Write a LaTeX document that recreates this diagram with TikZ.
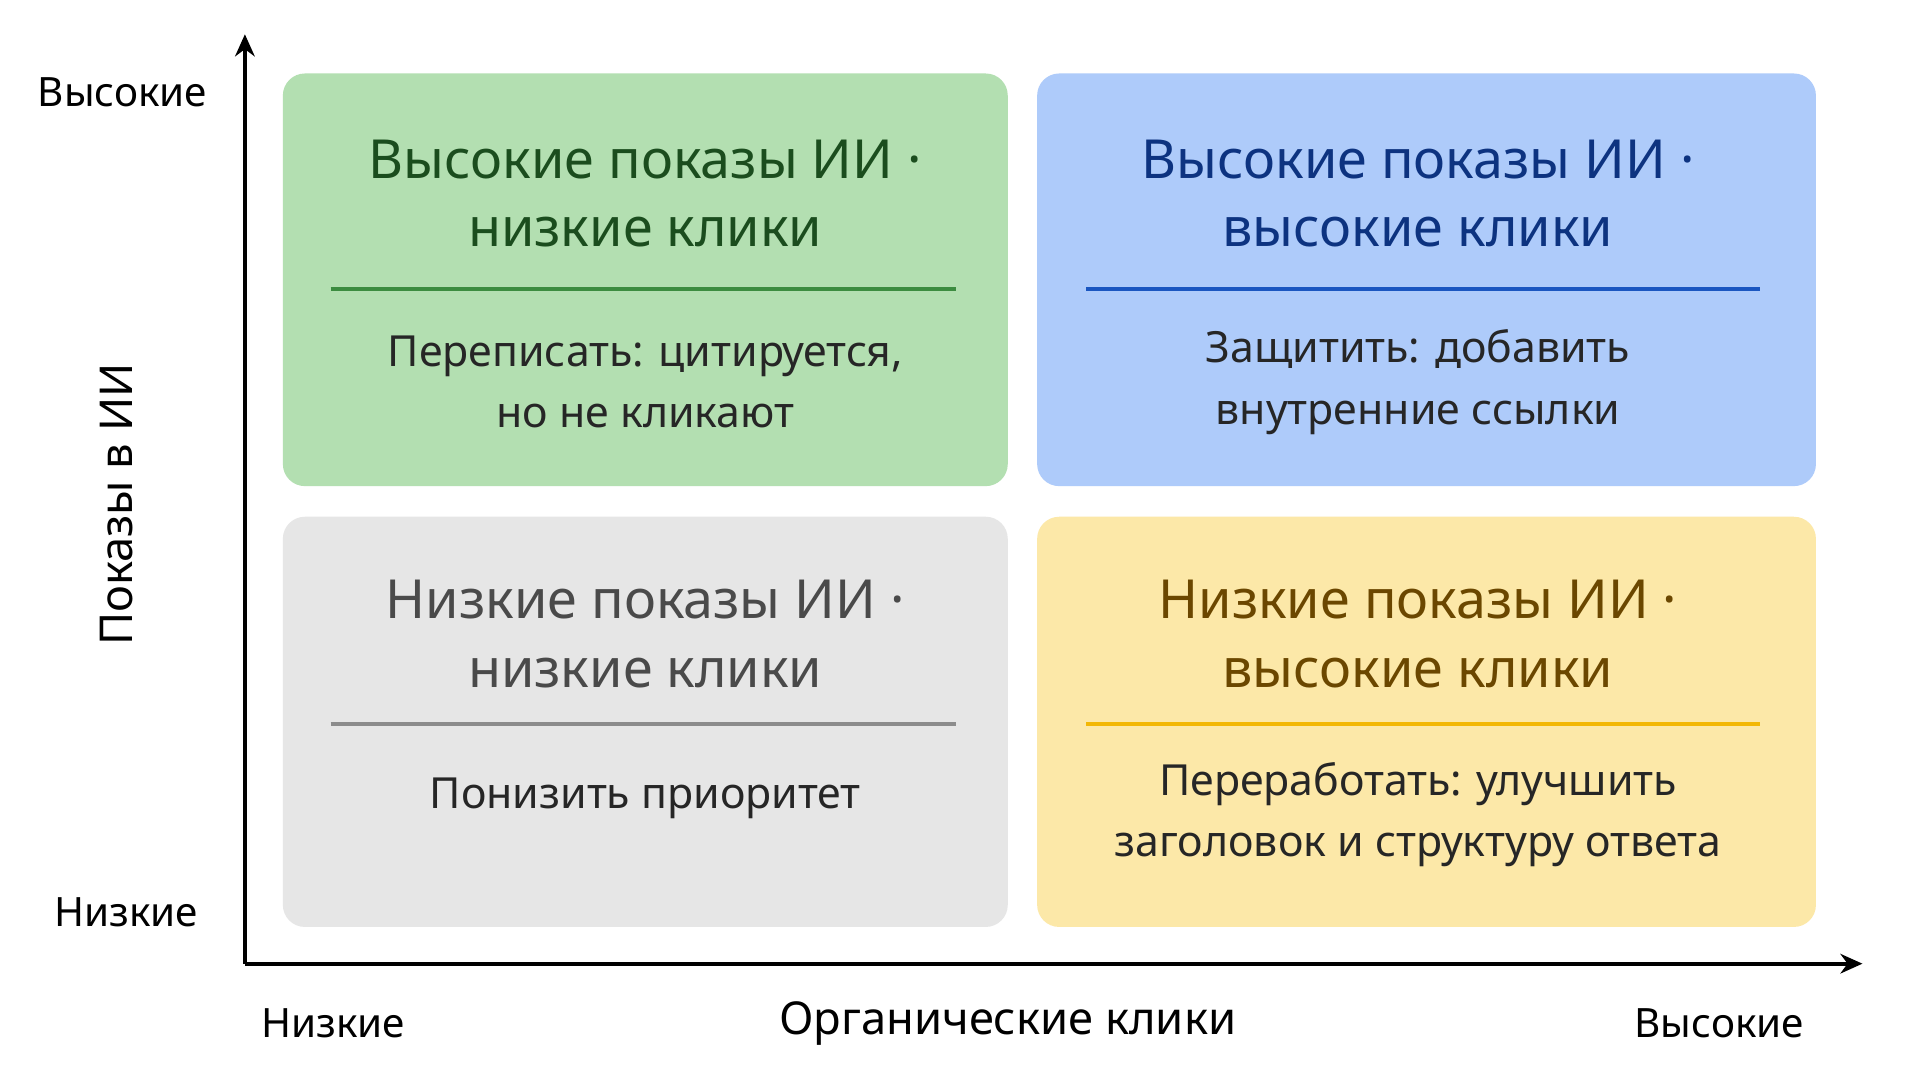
\documentclass[tikz,border=0pt]{standalone}
\usepackage{fontspec}
\setmainfont{Noto Sans}
\usetikzlibrary{arrows.meta}
\definecolor{gF}{HTML}{B3DFB1}\definecolor{gT}{HTML}{1B4D1E}\definecolor{gL}{HTML}{3C8C40}
\definecolor{bF}{HTML}{AECBFA}\definecolor{bT}{HTML}{0D3380}\definecolor{bL}{HTML}{1A56C0}
\definecolor{yF}{HTML}{FCE8A8}\definecolor{yT}{HTML}{6B4700}\definecolor{yL}{HTML}{F2B705}
\definecolor{hF}{HTML}{E6E6E6}\definecolor{hT}{HTML}{4A4A4A}\definecolor{hL}{HTML}{8C8C8C}
\tikzset{
 box/.style={rounded corners=9pt,draw=none},
 ttl/.style={font=\fontsize{22}{28}\selectfont\bfseries,align=center},
 bod/.style={font=\fontsize{17.5}{25}\selectfont,align=center,text=black!85},
 sep/.style={line width=1.5pt},
 ax/.style={line width=1.6pt,-{Stealth[length=9pt,width=8pt]}},
 axl/.style={font=\fontsize{16.5}{20}\selectfont,text=black},
}
\begin{document}
\begin{tikzpicture}[x=0.5pt,y=-0.5pt]
\useasboundingbox[fill=white] (0,0) rectangle (1568,889);
\fill[box,gF] (231,60) rectangle (823,397);
\fill[box,bF] (847,60) rectangle (1483,397);
\fill[box,hF] (231,422) rectangle (823,757);
\fill[box,yF] (847,422) rectangle (1483,757);
\node[ttl,text=gT] (t1) at (527,158) {Высокие показы ИИ ·\\низкие клики};
\node[ttl,text=bT] (t2) at (1158,158) {Высокие показы ИИ ·\\высокие клики};
\node[ttl,text=hT] (t3) at (527,518) {Низкие показы ИИ ·\\низкие клики};
\node[ttl,text=yT] (t4) at (1158,518) {Низкие показы ИИ ·\\высокие клики};
\coordinate (a1) at (270,236); \coordinate (b1) at (781,236);
\coordinate (a2) at (887,236); \coordinate (b2) at (1437,236);
\coordinate (a3) at (270,591); \coordinate (b3) at (781,591);
\coordinate (a4) at (887,591); \coordinate (b4) at (1437,591);
\draw[sep,gL] (a1)--(b1); \draw[sep,bL] (a2)--(b2);
\draw[sep,hL] (a3)--(b3); \draw[sep,yL] (a4)--(b4);
\node[bod] (d1) at (527,312) {Переписать: цитируется,\\но не кликают};
\node[bod] (d2) at (1158,312) {Защитить: добавить\\внутренние ссылки};
\node[bod] (d3) at (527,652) {Понизить приоритет};
\node[bod] (d4) at (1158,665) {Переработать: улучшить\\заголовок и структуру ответа};
\coordinate (o) at (200,787); \coordinate (yt) at (200,28); \coordinate (xt) at (1521,787);
\draw[ax] (o)--(yt); \draw[ax] (o)--(xt);
\node[axl] (yh) at (100,75) {Высокие};
\node[axl] (yl) at (103,745) {Низкие};
\node[axl] (xl) at (272,836) {Низкие};
\node[axl] (xh) at (1404,836) {Высокие};
\node[axl,font=\fontsize{18.5}{22}\selectfont\bfseries] (xn) at (823,836) {Органические клики};
\node[axl,font=\fontsize{18.5}{22}\selectfont\bfseries,rotate=90] (yn) at (95,412) {Показы в ИИ};
\end{tikzpicture}
\end{document}
